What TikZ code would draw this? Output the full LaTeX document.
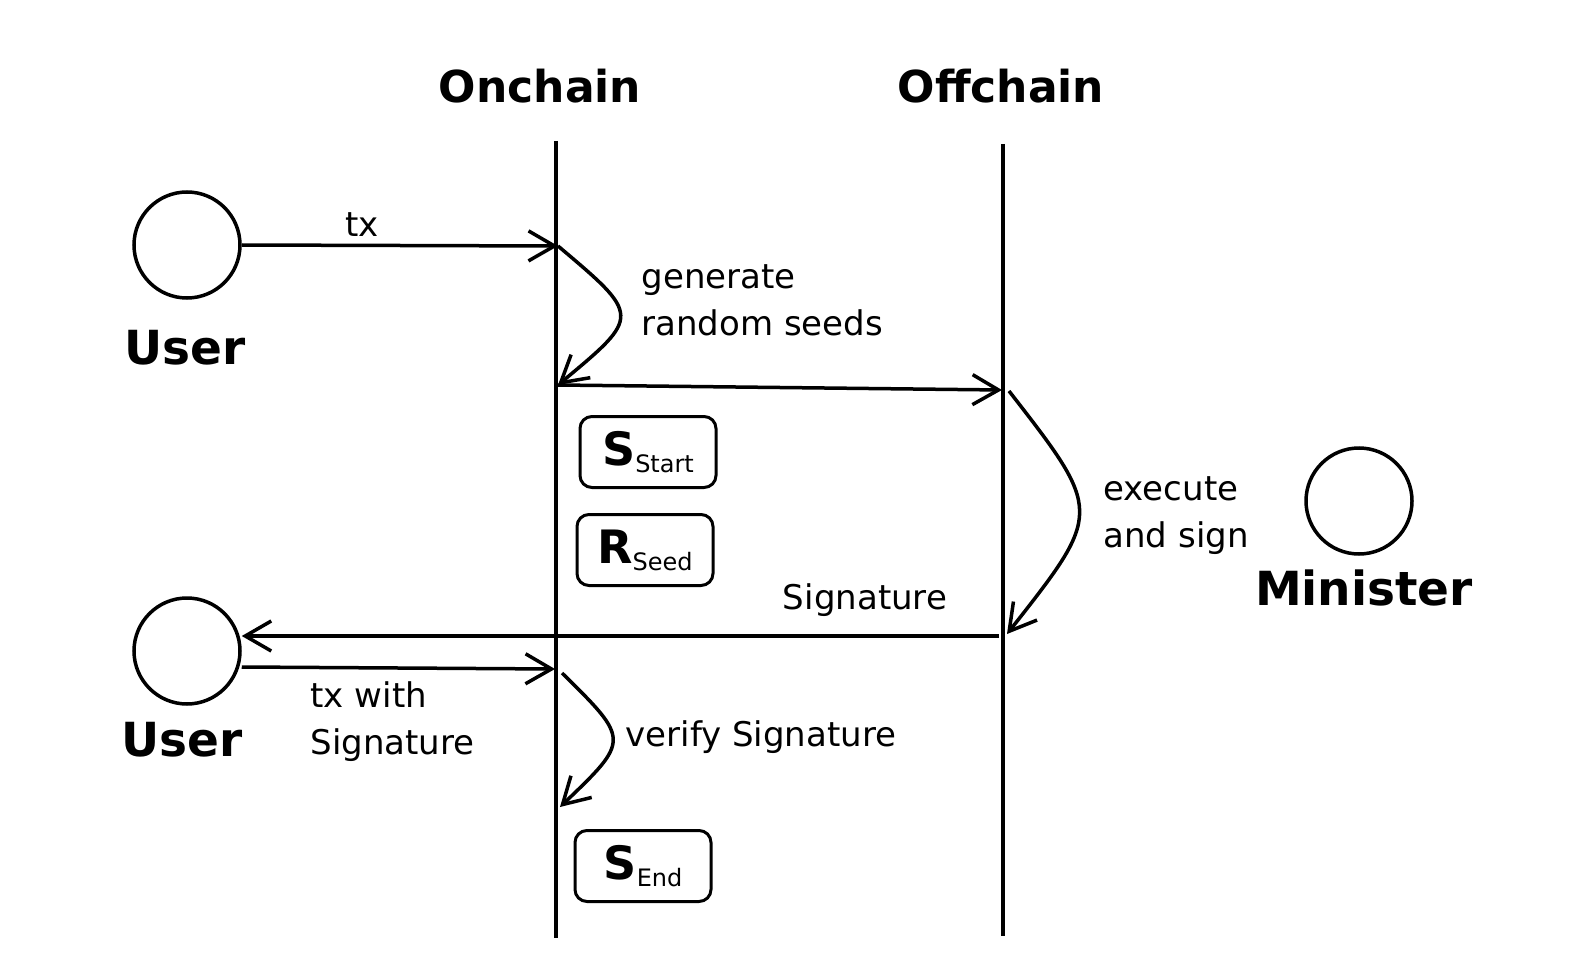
\documentclass[tikz,border=0pt]{standalone}
\usepackage{fontspec}
\setmainfont{DejaVu Sans}
\usepackage{tikz}
\usetikzlibrary{arrows.meta, positioning, calc}

\begin{document}
\begin{tikzpicture}[
    x=1pt, y=-1pt,
    lifeline/.style={line width=3.5pt},
    actor/.style={draw, circle, line width=3.5pt, minimum size=106pt, inner sep=0pt},
    title/.style={font=\fontsize{44}{50}\selectfont\bfseries},
    actorlabel/.style={font=\fontsize{47}{50}\selectfont\bfseries},
    label/.style={font=\fontsize{34}{47}\selectfont, align=left, anchor=west},
    state/.style={draw, rounded corners=12pt, line width=3pt, minimum width=136pt, minimum height=71pt, inner sep=0pt},
    arrow/.style={-{Straight Barb[length=26pt, width=30pt]}, line width=3.5pt}
]
\useasboundingbox (0,0) rectangle (1582,976);

% Lifelines
\node[title] (onchain) at (540,86) {Onchain};
\node[title] (offchain) at (1001,86) {Offchain};
\coordinate (onTop) at (556,141);
\coordinate (onBot) at (556,938);
\coordinate (offTop) at (1003,144);
\coordinate (offBot) at (1003,936);
\draw[lifeline] (onTop) -- (onBot);
\draw[lifeline] (offTop) -- (offBot);

% Actors
\node[actor] (user1) at (187,245) {};
\node[actorlabel] (user1label) at (185,348) {User};
\node[actor] (user2) at (187,651) {};
\node[actorlabel] (user2label) at (182,740) {User};
\node[actor] (minister) at (1359,501) {};
\node[actorlabel] (ministerlabel) at (1364,588) {Minister};

% Points on the lifelines
\coordinate (txIn) at (558,246);
\coordinate (genEnd) at (558,385);
\coordinate (reqIn) at (1002,390);
\coordinate (signStart) at (1009,391);
\coordinate (signEnd) at (1007,634);
\coordinate (sigOut) at (999,636);
\coordinate (txSigIn) at (555,669);
\coordinate (verStart) at (562,673);
\coordinate (verEnd) at (560,807);

% States
\node[state] (sstart) at (648,452) {{\fontsize{46}{50}\selectfont\bfseries S}\raisebox{-7pt}{\fontsize{24}{28}\selectfont Start}};
\node[state] (rseed) at (645,550) {{\fontsize{46}{50}\selectfont\bfseries R}\raisebox{-7pt}{\fontsize{24}{28}\selectfont Seed}};
\node[state] (send) at (643,866) {{\fontsize{46}{50}\selectfont\bfseries S}\raisebox{-7pt}{\fontsize{24}{28}\selectfont End}};

% Messages
\draw[arrow] (user1.east) -- node[pos=0.38, above=4pt, font=\fontsize{34}{38}\selectfont] (txlabel) {tx} (txIn);
\draw[arrow] (txIn) .. controls (641,316) .. (genEnd);
\node[label] (genlabel) at (638,300) {generate\\random seeds};
\draw[arrow] (genEnd) -- (reqIn);
\draw[arrow] (signStart) .. controls (1103,512) .. (signEnd);
\node[label] (signlabel) at (1100,516) {execute\\and sign};
\draw[arrow] (sigOut) -- (user2.east |- sigOut);
\node[font=\fontsize{34}{38}\selectfont] (siglabel) at (865,600) {Signature};
\draw[arrow] (user2.east |- 0,667) -- (txSigIn);
\node[label] (txsiglabel) at (307,722) {tx with\\Signature};
\draw[arrow] (verStart) .. controls (630,740) .. (verEnd);
\node[label] (verlabel) at (622,737) {verify Signature};

\end{tikzpicture}
\end{document}
